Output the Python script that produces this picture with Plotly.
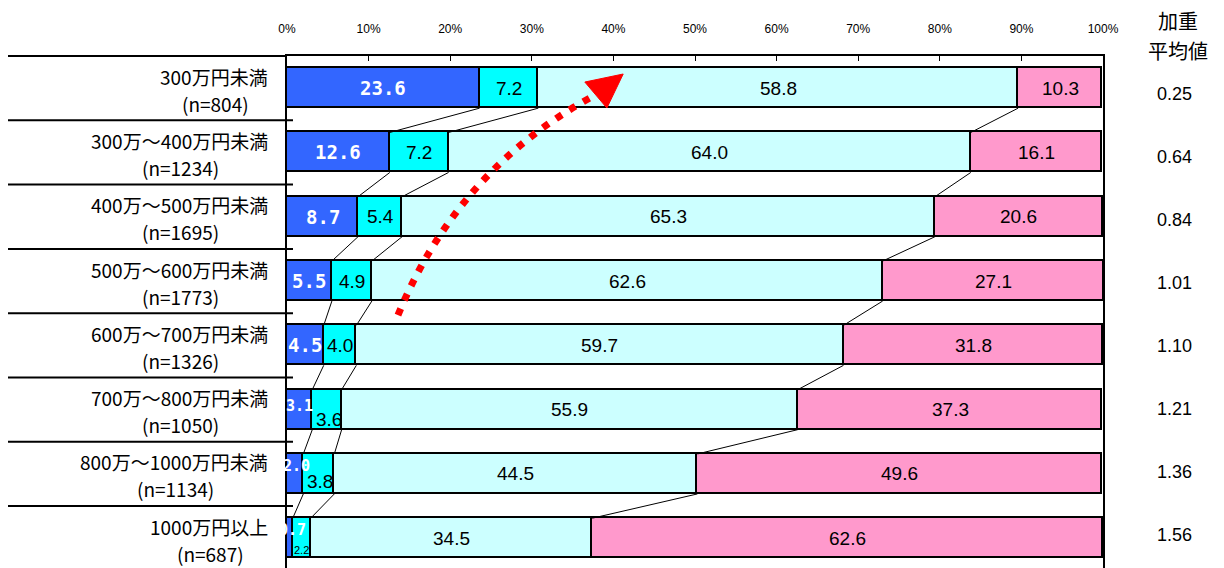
import plotly.graph_objects as go

# --- data -------------------------------------------------------------------
income_groups = [
    "300万円未満", "300万～400万円未満", "400万～500万円未満", "500万～600万円未満",
    "600万～700万円未満", "700万～800万円未満", "800万～1000万円未満", "1000万円以上",
]
sample_sizes = [804, 1234, 1695, 1773, 1326, 1050, 1134, 687]

share_a = [23.6, 12.6, 8.7, 5.5, 4.5, 3.1, 2.0, 0.7]
share_b = [7.2, 7.2, 5.4, 4.9, 4.0, 3.6, 3.8, 2.2]
share_c = [58.8, 64.0, 65.3, 62.6, 59.7, 55.9, 44.5, 34.5]
share_d = [10.3, 16.1, 20.6, 27.1, 31.8, 37.3, 49.6, 62.6]

weighted_avg = ["0.25", "0.64", "0.84", "1.01", "1.10", "1.21", "1.36", "1.56"]

tick_values = [0, 10, 20, 30, 40, 50, 60, 70, 80, 90, 100]
tick_labels = ["0%", "10%", "20%", "30%", "40%", "50%", "60%", "70%", "80%", "90%", "100%"]

avg_header = ["加重", "平均値"]

# --- styling ----------------------------------------------------------------
series = [share_a, share_b, share_c, share_d]
colors = ["#3366FF", "#00FFFF", "#CCFFFF", "#FF99CC"]
bar_w = 0.622
rows = list(range(len(income_groups)))
y_range = [7.463, -0.5]          # reversed: first group on top
W, H = 1224, 568
L, R, T, B = 287, 121, 56, 0
plot_w = W - L - R

JP = "Noto Sans CJK JP"
NUM = "Liberation Sans"
BOLD = "DejaVu Sans Mono"
LABEL_SIZE = 19

fig = go.Figure()
for vals, col, nm in zip(series, colors, ["a", "b", "c", "d"]):
    fig.add_trace(go.Bar(
        x=vals, y=rows, orientation="h", width=bar_w, name=nm,
        marker=dict(color=col, line=dict(color="#000000", width=1.6)),
        hoverinfo="skip", showlegend=False,
    ))

annotations = []
shapes = []

# segment value labels (a few small segments are nudged so they stay legible)
nudges = {
    (0, 5): dict(size=15, dy=4, dx=0.0),
    (0, 6): dict(size=15, dy=8, dx=0.2),
    (0, 7): dict(size=15, dy=8, dx=0.3),
    (1, 5): dict(size=19, dy=-10, dx=0.2),
    (1, 6): dict(size=19, dy=-8, dx=0.1),
    (1, 7): dict(size=11, dy=-12, dx=0.0),
}
for s, vals in enumerate(series):
    for i in rows:
        start = sum(series[k][i] for k in range(s))
        v = vals[i]
        nd = nudges.get((s, i), {})
        if s == 0:
            font = dict(family=BOLD, size=nd.get("size", 19), color="#FFFFFF")
            txt = f"<b>{v:.1f}</b>"
        else:
            font = dict(family=NUM, size=nd.get("size", 19), color="#000000")
            txt = f"{v:.1f}"
        annotations.append(dict(
            x=start + v / 2 + nd.get("dx", 0), y=i, xref="x", yref="y",
            text=txt, showarrow=False, font=font,
            xanchor="center", yanchor="middle", yshift=nd.get("dy", 0),
        ))

# connector lines between consecutive bars at each segment boundary
for s in range(3):
    cum = [sum(series[k][i] for k in range(s + 1)) for i in rows]
    for i in rows[:-1]:
        shapes.append(dict(
            type="line", xref="x", yref="y",
            x0=cum[i], y0=i + bar_w / 2, x1=cum[i + 1], y1=i + 1 - bar_w / 2,
            line=dict(color="#000000", width=1),
        ))


def text_width(s, size):
    """Approximate rendered width: full-width glyphs 1em, others ~0.567em."""
    return sum(size if ord(c) > 0x2000 else 0.567 * size for c in s)


# category labels on the left: name on the first line, sample size centred below
for i, (g, n) in enumerate(zip(income_groups, sample_sizes)):
    annotations.append(dict(
        x=0, y=i, xref="paper", yref="y", xanchor="right", yanchor="middle",
        xshift=-17, yshift=12, showarrow=False, text=g,
        font=dict(family=JP, size=LABEL_SIZE, color="#000000"),
    ))
    annotations.append(dict(
        x=0, y=i, xref="paper", yref="y", xanchor="center", yanchor="middle",
        xshift=-17 - text_width(g, LABEL_SIZE) / 2, yshift=-15, showarrow=False,
        text=f"(n={n})",
        font=dict(family=JP, size=LABEL_SIZE, color="#000000"),
    ))

# separator lines in the label column
def paper_y(v):
    return (y_range[0] - v) / (y_range[0] - y_range[1])

for k in range(len(rows)):
    v = k - 0.5
    shapes.append(dict(
        type="line", xref="paper", yref="paper",
        x0=-279 / plot_w, x1=(0 if k == 0 else 6 / plot_w),
        y0=paper_y(v), y1=paper_y(v),
        line=dict(color="#000000", width=2),
    ))

# weighted average column
annotations.append(dict(x=1, y=1, xref="paper", yref="paper", xshift=75, yshift=36,
                        text=avg_header[0], showarrow=False, xanchor="center", yanchor="middle",
                        font=dict(family=JP, size=20, color="#000000")))
annotations.append(dict(x=1, y=1, xref="paper", yref="paper", xshift=75, yshift=6,
                        text=avg_header[1], showarrow=False, xanchor="center", yanchor="middle",
                        font=dict(family=JP, size=20, color="#000000")))
for i, a in enumerate(weighted_avg):
    annotations.append(dict(
        x=1, y=i, xref="paper", yref="y", xshift=71, yshift=-(5.5 - 1.3 * i),
        text=a, showarrow=False, xanchor="center", yanchor="middle",
        font=dict(family=NUM, size=18, color="#000000"),
    ))

# red dotted trend arrow
shapes.append(dict(
    type="path", xref="x", yref="y",
    path="M 13.6 3.53 Q 20.8 1.30 37.1 0.153",
    line=dict(color="#FF0000", width=7, dash="7px,9px"),
))
shapes.append(dict(
    type="path", xref="x", yref="y",
    path="M 36.5 -0.095 L 41.2 -0.22 L 39.2 0.309 Z",
    fillcolor="#FF0000", line=dict(color="#FF0000", width=1),
))

fig.update_layout(
    width=W, height=H,
    margin=dict(l=L, r=R, t=T, b=B, pad=0),
    barmode="stack", bargap=0,
    plot_bgcolor="#FFFFFF", paper_bgcolor="#FFFFFF",
    annotations=annotations, shapes=shapes,
    xaxis=dict(
        range=[0, 100], side="top", tickmode="array",
        tickvals=tick_values, ticktext=tick_labels,
        ticks="inside", ticklen=5, tickwidth=1, tickcolor="#000000",
        showline=True, linecolor="#000000", linewidth=2,
        showgrid=False, zeroline=False, ticklabelstandoff=16,
        tickfont=dict(family=NUM, size=12, color="#000000"),
    ),
    yaxis=dict(
        range=y_range, showticklabels=False, ticks="",
        showline=True, mirror=True, linecolor="#000000", linewidth=2,
        showgrid=False, zeroline=False,
    ),
)

fig.write_html("out.html")
